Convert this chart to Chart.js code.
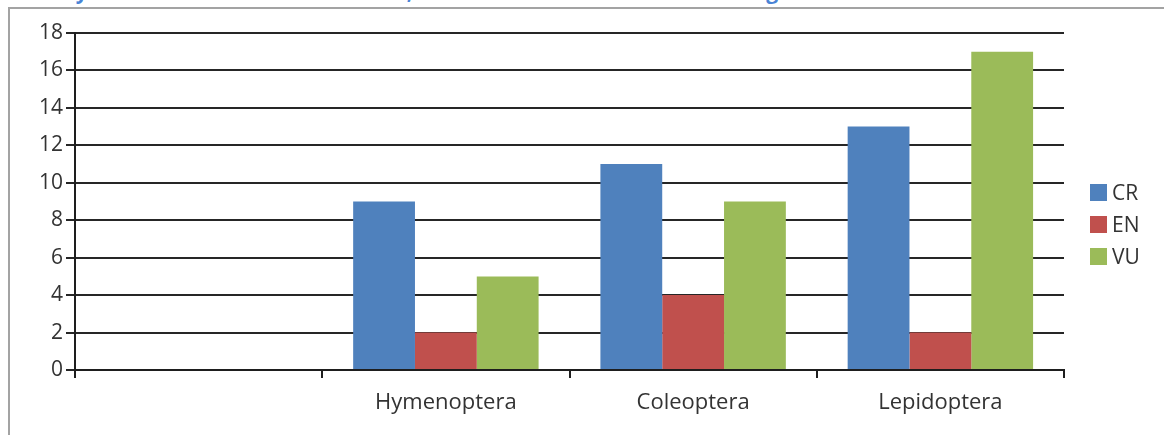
<!DOCTYPE html>
<html>
<head>
<meta charset="utf-8">
<script src="https://cdn.jsdelivr.net/npm/chart.js@4/dist/chart.umd.min.js"></script>
<style>
  html, body { margin: 0; padding: 0; background: #fff; overflow: hidden; }
  body { width: 1164px; height: 435px; position: relative; font-family: "Open Sans", sans-serif; }
  #title {
    position: absolute; right: 334px; top: -21px; white-space: nowrap;
    font: bold 21px/24px "Open Sans", sans-serif; color: #4a84d6;
  }
  #frame {
    position: absolute; left: 8px; top: 7px; width: 1200px; height: 500px;
    border: 2px solid #a3a3a3; box-sizing: border-box;
  }
  #wrap { position: absolute; left: 0; top: 0; width: 1164px; height: 435px; }
  #legend { position: absolute; left: 1090px; top: 176px; }
  .item { display: flex; align-items: center; height: 32px; font: 21px "Open Sans", sans-serif; color: #333; }
  .sw { width: 17px; height: 17px; margin-right: 5px; }
</style>
</head>
<body>
<div id="title">Insect diversity in the national Red Data Book, in accordance with the IUCN categories</div>
<div id="frame"></div>
<div id="wrap"><canvas id="c" width="1164" height="435"></canvas></div>
<div id="legend"></div>
<script>
// Orders of insects (the first slot is left empty on the axis)
const categories = ['', 'Hymenoptera', 'Coleoptera', 'Lepidoptera'];
// Number of species per IUCN category
const crValues = [null, 9, 11, 13];
const enValues = [null, 2, 4, 2];
const vuValues = [null, 5, 9, 17];
const yTicks = [0, 2, 4, 6, 8, 10, 12, 14, 16, 18];

const seriesNames = ['CR', 'EN', 'VU'];
const seriesColors = ['#4f81bd', '#c0504d', '#9bbb59'];
const seriesValues = [crValues, enValues, vuValues];

const yFont = { family: '"Open Sans", sans-serif', size: 21 };
const xFont = { family: '"Open Sans", sans-serif', size: 22 };
const textColor = '#333';

function draw() {
  const chart = new Chart(document.getElementById('c'), {
    type: 'bar',
    data: {
      labels: categories,
      datasets: seriesNames.map((name, i) => ({
        label: name,
        data: seriesValues[i],
        backgroundColor: seriesColors[i],
        borderWidth: 0,
        categoryPercentage: 0.75,
        barPercentage: 1.0
      }))
    },
    options: {
      responsive: false,
      animation: false,
      layout: { padding: { top: 33, right: 100, left: 0, bottom: 0 } },
      plugins: { legend: { display: false }, title: { display: false }, tooltip: { enabled: false } },
      scales: {
        x: {
          offset: true,
          grid: { display: true, drawOnChartArea: false, drawTicks: true, tickLength: 8, color: '#1e1e1e', lineWidth: 2, offset: true },
          border: { display: true, color: '#1e1e1e', width: 2 },
          ticks: { color: textColor, font: xFont, padding: 12, maxRotation: 0, autoSkip: false },
          afterFit: s => { s.height = 65; }
        },
        y: {
          min: 0, max: 18,
          afterBuildTicks: s => { s.ticks = yTicks.map(v => ({ value: v })); },
          grid: { color: '#262626', lineWidth: 2, drawTicks: true, tickLength: 9 },
          border: { display: true, color: '#1e1e1e', width: 2 },
          ticks: { color: textColor, font: yFont, padding: 3 },
          afterFit: s => { s.width = 75; }
        }
      }
    }
  });

  // Legend built from the chart's own datasets
  const legend = document.getElementById('legend');
  chart.data.datasets.forEach(ds => {
    const row = document.createElement('div');
    row.className = 'item';
    const sw = document.createElement('div');
    sw.className = 'sw';
    sw.style.background = ds.backgroundColor;
    row.appendChild(sw);
    row.appendChild(document.createTextNode(ds.label));
    legend.appendChild(row);
  });
}

document.fonts.load('22px "Open Sans"').then(draw, draw);
</script>
</body>
</html>
